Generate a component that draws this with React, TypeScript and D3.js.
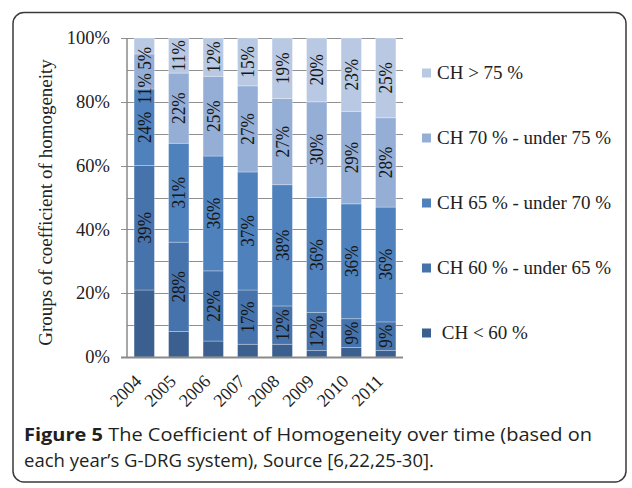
import React from "react";
import * as d3 from "d3";

const years = ["2004", "2005", "2006", "2007", "2008", "2009", "2010", "2011"];
const chUnder60 = [21, 8, 5, 4, 4, 2, 3, 2];
const ch60to65 = [39, 28, 22, 17, 12, 12, 9, 9];
const ch65to70 = [24, 31, 36, 37, 38, 36, 36, 36];
const ch70to75 = [11, 22, 25, 27, 27, 30, 29, 28];
const chOver75 = [5, 11, 12, 15, 19, 20, 23, 25];

const seriesNames = [
  " CH < 60 %",
  "CH 60 % - under 65 %",
  "CH 65 % - under 70 %",
  "CH 70 % - under 75 %",
  "CH > 75 %",
];
const seriesColors = ["#3b5f8e", "#4673ab", "#4f81bd", "#95aed6", "#b9c9e3"];
const seriesShowLabel = [false, true, true, true, true];
const yTicks = [0, 0.2, 0.4, 0.6, 0.8, 1.0];
const yGrid = [0.1, 0.2, 0.3, 0.4, 0.5, 0.6, 0.7, 0.8, 0.9, 1.0];
const yTitle = "Groups of coefficient of homogeneity";
const captionBold = "Figure 5";
const captionLine1 = " The Coefficient of Homogeneity over time (based on";
const captionLine2 = "each year\u2019s G-DRG system), Source [6,22,25-30].";

const W = 632;
const H = 488;
const plot = { left: 127, right: 403, top: 38, bottom: 357 };
const serif = "'Liberation Serif', 'Times New Roman', serif";
const labelFont = 19.5;
const labelSquish = 0.88;

function labelLen(s: string) {
  // approximate Times advance widths: digits 0.5em, % 0.833em
  let w = 0;
  for (const c of s) w += c === "%" ? 0.833 : 0.5;
  return w * labelFont * labelSquish;
}

export default function App() {
  const seriesValues = [chUnder60, ch60to65, ch65to70, ch70to75, chOver75];
  const rows = years.map((y, i) => {
    const r: any = { year: y };
    seriesValues.forEach((s, k) => (r["s" + k] = s[i] / 100));
    return r;
  });
  const keys = seriesValues.map((_, k) => "s" + k);
  const stacked = d3.stack().keys(keys)(rows);

  const x = d3
    .scaleBand<string>()
    .domain(years)
    .range([plot.left, plot.right])
    .paddingInner(0.41)
    .paddingOuter(0.205);
  const y = d3.scaleLinear().domain([0, 1]).range([plot.bottom, plot.top]);
  const bw = x.bandwidth();
  const pct = d3.format(".0%");

  // label positions per bar, overlaps resolved from the top down
  const labels: { key: string; cx: number; cy: number; text: string }[] = [];
  years.forEach((yr, i) => {
    const cx = (x(yr) as number) + bw / 2;
    let prevBottom = -Infinity;
    for (let k = stacked.length - 1; k >= 0; k--) {
      if (!seriesShowLabel[k]) continue;
      const d: any = stacked[k][i];
      const text = pct(d[1] - d[0]);
      const half = labelLen(text) / 2;
      let cy = (y(d[0]) + y(d[1])) / 2;
      if (cy - half < plot.top) cy = plot.top + 9 + half;
      if (cy - half < prevBottom + 3) cy = prevBottom + 3 + half;
      prevBottom = cy + half;
      labels.push({ key: k + "-" + i, cx, cy, text });
    }
  });

  const legendX = 422;
  const legendYs = d3
    .scalePoint<number>()
    .domain([4, 3, 2, 1, 0])
    .range([73, 333]);

  return (
    <svg
      width={W}
      height={H}
      style={{ position: "absolute", left: 0, top: 0, background: "#fff" }}
    >
      <rect
        x={13}
        y={12.5}
        width={613}
        height={469.5}
        rx={11}
        fill="#fff"
        stroke="#3a3a3a"
        strokeWidth={1.5}
      />
      {yGrid.map((t) => {
        const major = Math.abs((t * 10) % 2) < 1e-6;
        return (
          <line
            key={"g" + t}
            x1={major ? plot.left - 6 : plot.left}
            x2={plot.right}
            y1={Math.round(y(t)) + 0.5}
            y2={Math.round(y(t)) + 0.5}
            stroke="#8f8f8f"
            strokeWidth={1}
          />
        );
      })}
      {stacked.map((layer, k) => (
        <g key={"l" + k} fill={seriesColors[k]}>
          {layer.map((d: any, i: number) => (
            <rect
              key={i}
              x={x(years[i])}
              y={y(d[1])}
              width={bw}
              height={Math.max(0, y(d[0]) - y(d[1]))}
              stroke="rgba(255,255,255,0.35)"
              strokeWidth={0.8}
            />
          ))}
        </g>
      ))}
      {labels.map((l) => (
        <text
          key={"t" + l.key}
          transform={`translate(${l.cx},${l.cy}) rotate(-90) scale(${labelSquish},1)`}
          textAnchor="middle"
          dy="0.34em"
          fontFamily={serif}
          fontSize={labelFont}
          fill="#161616"
        >
          {l.text}
        </text>
      ))}
      <line
        x1={plot.left}
        x2={plot.left}
        y1={plot.top}
        y2={plot.bottom}
        stroke="#8a8a8a"
        strokeWidth={1.5}
      />
      <line
        x1={plot.left - 6}
        x2={plot.right}
        y1={plot.bottom + 0.5}
        y2={plot.bottom + 0.5}
        stroke="#8a8a8a"
        strokeWidth={2}
      />
      {yTicks.map((t) => (
        <text
          key={"y" + t}
          x={110}
          y={y(t)}
          dy="0.34em"
          textAnchor="end"
          fontFamily={serif}
          fontSize={18.5}
          fill="#222"
        >
          {pct(t)}
        </text>
      ))}
      {years.map((yr) => (
        <text
          key={"x" + yr}
          transform={`translate(${(x(yr) as number) + bw / 2 - 6},${378}) rotate(-45)`}
          textAnchor="end"
          dy="0.34em"
          fontFamily={serif}
          fontSize={18}
          fill="#222"
        >
          {yr}
        </text>
      ))}
      <text
        transform={`translate(52,${(plot.top + plot.bottom) / 2 + 5}) rotate(-90)`}
        textAnchor="middle"
        fontFamily={serif}
        fontSize={19}
        fill="#222"
      >
        {yTitle}
      </text>
      {seriesNames.map((name, k) => {
        const cy = legendYs(k) as number;
        return (
          <g key={"lg" + k}>
            <rect x={legendX} y={cy - 4.5} width={9} height={9} fill={seriesColors[k]} />
            <text
              x={legendX + 15}
              y={cy}
              dy="0.34em"
              fontFamily={serif}
              fontSize={19}
              fill="#222"
              style={{ whiteSpace: "pre" }}
            >
              {name}
            </text>
          </g>
        );
      })}
      <text
        x={24}
        y={441}
        fontFamily="'Open Sans', 'Noto Sans', sans-serif"
        fontSize={18.5}
        fill="#231f20"
        textLength={568}
        lengthAdjust="spacingAndGlyphs"
        style={{ whiteSpace: "pre" }}
      >
        <tspan fontWeight="bold">{captionBold}</tspan>
        {captionLine1}
      </text>
      <text
        x={24}
        y={467}
        fontFamily="'Open Sans', 'Noto Sans', sans-serif"
        fontSize={18.5}
        fill="#231f20"
        textLength={410}
        lengthAdjust="spacingAndGlyphs"
      >
        {captionLine2}
      </text>
    </svg>
  );
}
